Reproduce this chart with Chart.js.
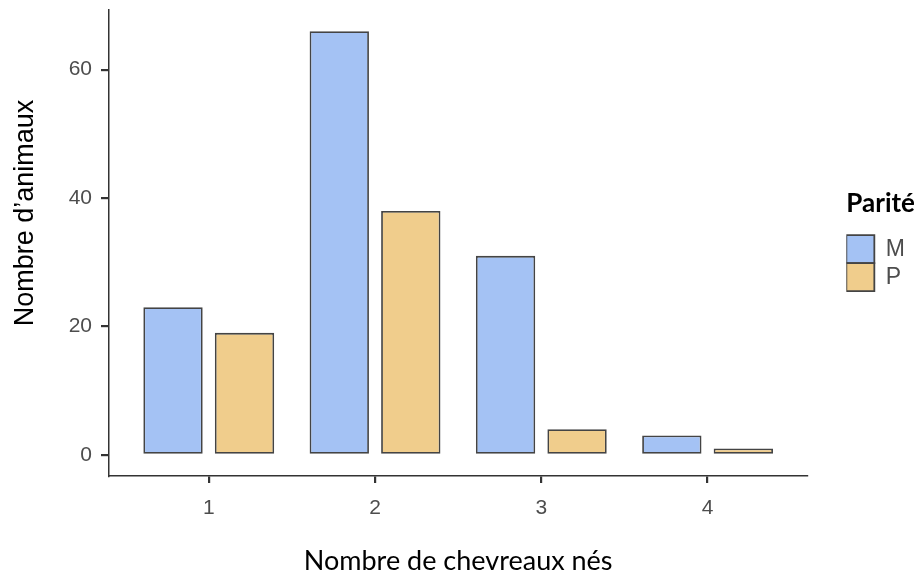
<!DOCTYPE html>
<html>
<head>
<meta charset="utf-8">
<title>Nombre de chevreaux nés</title>
<script src="https://cdn.jsdelivr.net/npm/chart.js"></script>
<style>
  body{
    margin: 0;
    background: #fff;
  }
</style>
</head>
<body>
<canvas id="myChart" width="914" height="573"></canvas>
<script>
// data
const categories = ['1', '2', '3', '4'];
const seriesNames = ['M', 'P'];
const valuesM = [23, 66, 31, 3];
const valuesP = [19, 38, 4, 1];
const yTicks = [0, 20, 40, 60];

const fills = ['#a4c2f4', '#f0cd8c'];
const ink = '#333333';
const barInk = '#444444';
const tickInk = '#4d4d4d';

function toPoints(values) {
  return values.map((v, i) => ({ x: i + 1, y: v }));
}

// legend is pushed a little away from the panel, and the y title is drawn by hand
// so it can sit a bit above the middle, as in the original
const extras = {
  id: 'extras',
  afterLayout(chart) {
    chart.legend.left += 39;
    chart.legend.right += 39;
  },
  afterDraw(chart) {
    const ctx = chart.ctx;
    ctx.save();
    ctx.translate(33, 213);
    ctx.rotate(-Math.PI / 2);
    ctx.font = '27px "Liberation Sans"';
    ctx.fillStyle = '#000';
    ctx.textAlign = 'center';
    ctx.textBaseline = 'alphabetic';
    ctx.fillText('Nombre d\u2019animaux', 0, 0);
    ctx.restore();
  }
};

const data = {
  datasets: [
    {
      label: seriesNames[0],
      data: toPoints(valuesM),
      backgroundColor: fills[0],
      borderColor: barInk,
      borderWidth: 1.8,
      borderSkipped: false,
      categoryPercentage: 0.86,
      barPercentage: 0.83
    },
    {
      label: seriesNames[1],
      data: toPoints(valuesP),
      backgroundColor: fills[1],
      borderColor: barInk,
      borderWidth: 1.8,
      borderSkipped: false,
      categoryPercentage: 0.86,
      barPercentage: 0.83
    }
  ]
};

const config = {
  type: 'bar',
  data: data,
  plugins: [extras],
  options: {
    responsive: false,
    animation: false,
    layout: { padding: { left: 0, right: 38, top: 10, bottom: 0 } },
    plugins: {
      tooltip: { enabled: false },
      legend: {
        position: 'right',
        align: 'start',
        title: {
          display: true,
          text: 'Parité',
          color: '#000',
          font: { family: 'Lato', size: 26, weight: 'bold' },
          padding: { top: 181, bottom: 13 }
        },
        labels: {
          boxWidth: 28,
          boxHeight: 28,
          padding: 0,
          color: tickInk,
          font: { family: 'Liberation Sans', size: 23 }
        }
      }
    },
    scales: {
      x: {
        type: 'linear',
        min: 0.4,
        max: 4.6,
        offset: false,
        afterBuildTicks: s => { s.ticks = categories.map((c, i) => ({ value: i + 1 })); },
        afterFit: s => { s.height = 97; s.paddingLeft = 0; s.paddingRight = 0; },
        grid: { offset: false, drawOnChartArea: false, drawTicks: true, tickLength: 7, color: ink, lineWidth: 2.2 },
        border: { display: true, color: ink, width: 1.5 },
        ticks: {
          callback: v => categories[v - 1],
          padding: 13,
          color: tickInk,
          font: { family: 'Liberation Sans', size: 21 }
        },
        title: {
          display: true,
          text: 'Nombre de chevreaux nés',
          color: '#000',
          font: { family: 'Lato', size: 27, lineHeight: 0.9 },
          padding: 0
        }
      },
      y: {
        type: 'linear',
        min: -3.3,
        max: 69.3,
        afterBuildTicks: s => { s.ticks = yTicks.map(v => ({ value: v })); },
        afterFit: s => { s.width = 109; s.paddingTop = 0; s.paddingBottom = 0; },
        grid: { drawOnChartArea: false, drawTicks: true, tickLength: 8, color: ink, lineWidth: 2.2 },
        border: { display: true, color: ink, width: 1.5 },
        ticks: {
          padding: 9,
          color: tickInk,
          font: { family: 'Liberation Sans', size: 21 }
        }
      }
    }
  }
};

const myChart = new Chart(document.getElementById('myChart'), config);
</script>
</body>
</html>
